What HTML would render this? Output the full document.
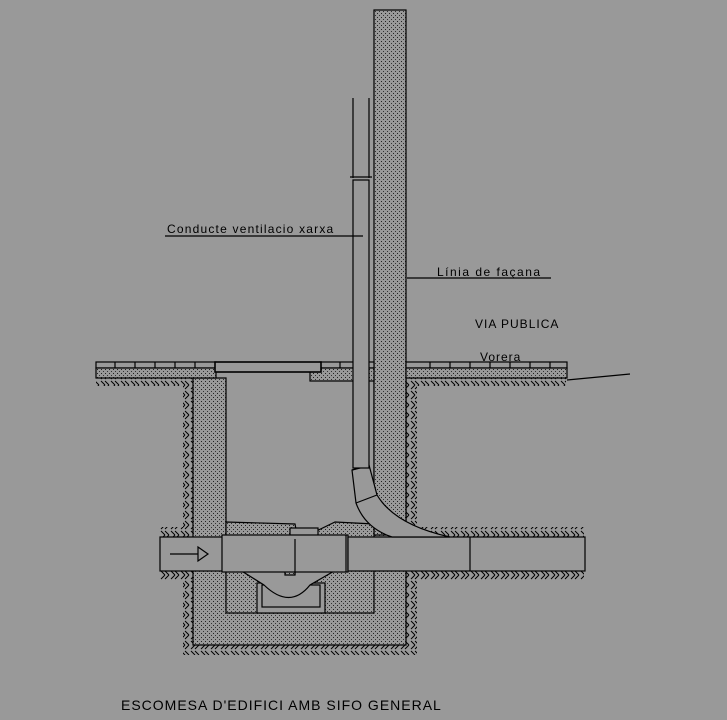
<!DOCTYPE html>
<html><head><meta charset="utf-8"><style>
html,body{margin:0;padding:0;background:#999}
svg{display:block}
text{font-family:"Liberation Sans",sans-serif;fill:#000}
</style></head><body>
<svg width="727" height="720" viewBox="0 0 727 720" xmlns="http://www.w3.org/2000/svg">
<defs>
<pattern id="dots" width="4" height="4" patternUnits="userSpaceOnUse"><rect width="4" height="4" fill="#999"/><rect x="1" y="1" width="1" height="1" fill="#222"/><rect x="3" y="3" width="1" height="1" fill="#333"/></pattern>
<pattern id="hatch" width="10" height="10" patternUnits="userSpaceOnUse"><rect width="10" height="10" fill="#999"/><path d="M1 9L5 5M5 9L9 5M1 1L5 5M5 1L9 5" stroke="#000" stroke-width="1"/></pattern>
</defs>
<rect width="727" height="720" fill="#999"/>
<g stroke="#000" stroke-width="1.2">
<rect x="183" y="380" width="10" height="275" fill="url(#hatch)" stroke="none"/>
<rect x="406" y="380" width="11" height="147" fill="url(#hatch)" stroke="none"/>
<rect x="406" y="571" width="11" height="84" fill="url(#hatch)" stroke="none"/>
<rect x="183" y="645" width="234" height="10" fill="url(#hatch)" stroke="none"/>
<rect x="160" y="527" width="33" height="10" fill="url(#hatch)" stroke="none"/>
<rect x="160" y="571" width="33" height="9" fill="url(#hatch)" stroke="none"/>
<rect x="406" y="527" width="178" height="10" fill="url(#hatch)" stroke="none"/>
<rect x="406" y="571" width="178" height="9" fill="url(#hatch)" stroke="none"/>
<rect x="96" y="378" width="120" height="8" fill="url(#hatch)" stroke="none"/>
<rect x="406" y="378" width="160" height="8" fill="url(#hatch)" stroke="none"/>
<path d="M193 378H226V570H374V378H406V645H193Z" fill="url(#dots)"/>
<rect x="374" y="10" width="32" height="525" fill="url(#dots)"/>
<rect x="96" y="362" width="120" height="6" fill="#999"/>
<rect x="96" y="368" width="120" height="10" fill="url(#dots)"/>
<rect x="406" y="362" width="161" height="6" fill="#999"/>
<rect x="406" y="368" width="161" height="10" fill="url(#dots)"/>
<rect x="320" y="362" width="54" height="6" fill="#999"/>
<rect x="310" y="368" width="64" height="13" fill="url(#dots)"/>
<rect x="215" y="362" width="106" height="10" fill="#999" stroke-width="1.6"/>
<path d="M115 362v6M135 362v6M155 362v6M175 362v6M195 362v6M340 362v6M430 362v6M450 362v6M470 362v6M490 362v6M510 362v6M530 362v6M550 362v6" />
<path d="M567 380L630 374"/>
<rect x="226" y="570" width="148" height="43" fill="url(#dots)"/>
<rect x="257" y="583" width="68" height="30" fill="#999"/>
<rect x="262" y="585" width="58" height="22" fill="none"/>
<path d="M240 570L264 585Q290 610 310 585L336 570" fill="#999"/>
<path d="M226 522L295 524L298 540L335 522L374 524V539H226Z" fill="url(#dots)"/>
<path d="M262 539Q285 540 285 575H295V539Z" fill="url(#dots)"/>
<rect x="290" y="528" width="28" height="9" fill="#999"/>
<rect x="160" y="537" width="66" height="34" fill="#999"/>
<rect x="222" y="535" width="126" height="37" fill="#999"/>
<path d="M170 554H198M198 547L208 554L198 561Z" fill="#999"/>
<path d="M295 539V575" fill="none"/>
<!-- horizontal pipe right -->
<rect x="348" y="537" width="237" height="34" fill="#999"/>
<path d="M346 535V572" />
<!-- bend -->
<path d="M352 470L356 503Q365 528 392 537L450 537Q395 525 377 495L369 465Z" fill="#999"/>
<path d="M352 470L368 466M356 503L377 495" />
<path d="M470 537V571"/>
<rect x="353" y="180" width="16" height="288" fill="#999"/>
<path d="M353 98V178M369 98V178M350 177H372"/>
<path d="M165 236H363M407 278H551"/>
</g>
<rect x="349" y="538" width="100" height="32" fill="#999"/>
<text x="167" y="233" font-size="12" letter-spacing="1.2">Conducte ventilacio xarxa</text>
<text x="437" y="276" font-size="12" letter-spacing="1.5">Línia de façana</text>
<text x="475" y="328" font-size="12" letter-spacing="1">VIA PUBLICA</text>
<text x="480" y="361" font-size="12" letter-spacing="1">Vorera</text>
<text x="121" y="710" font-size="14" letter-spacing="1">ESCOMESA D'EDIFICI AMB SIFO GENERAL</text>
</svg>
</body></html>
